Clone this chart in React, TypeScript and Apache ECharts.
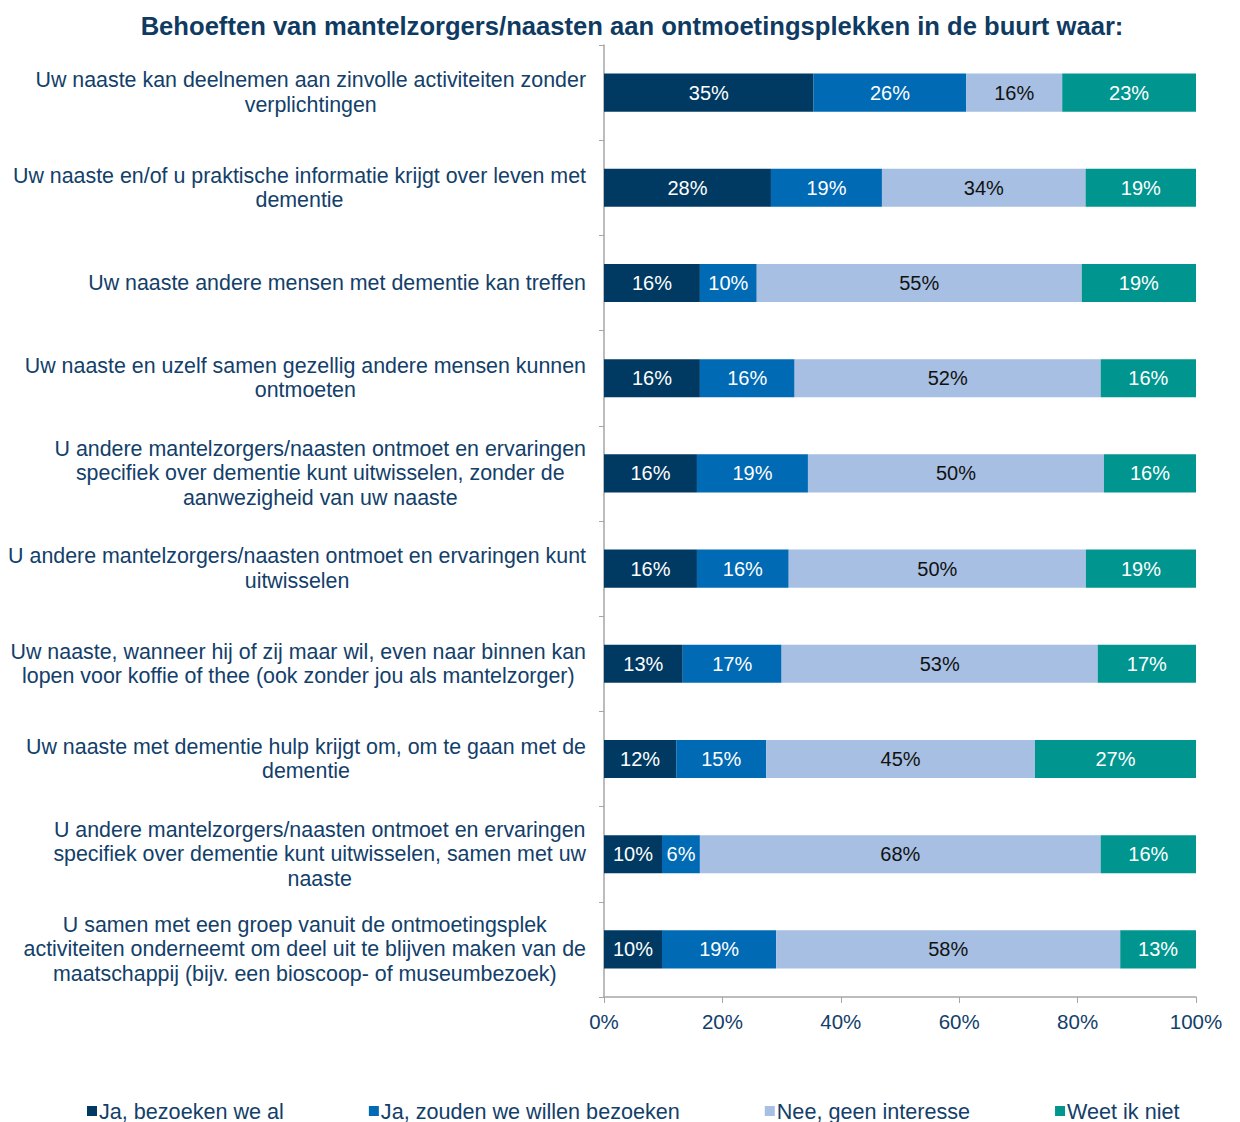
import React, { useEffect, useRef } from "react";
import * as echarts from "echarts";

const categories = [
  "Uw naaste kan deelnemen aan zinvolle activiteiten zonder\nverplichtingen",
  "Uw naaste en/of u praktische informatie krijgt over leven met\ndementie",
  "Uw naaste andere mensen met dementie kan treffen",
  "Uw naaste en uzelf samen gezellig andere mensen kunnen\nontmoeten",
  "U andere mantelzorgers/naasten ontmoet en ervaringen\nspecifiek over dementie kunt uitwisselen, zonder de\naanwezigheid van uw naaste",
  "U andere mantelzorgers/naasten ontmoet en ervaringen kunt\nuitwisselen",
  "Uw naaste, wanneer hij of zij maar wil, even naar binnen kan\nlopen voor koffie of thee (ook zonder jou als mantelzorger)",
  "Uw naaste met dementie hulp krijgt om, om te gaan met de\ndementie",
  "U andere mantelzorgers/naasten ontmoet en ervaringen\nspecifiek over dementie kunt uitwisselen, samen met uw\nnaaste",
  "U samen met een groep vanuit de ontmoetingsplek\nactiviteiten onderneemt om deel uit te blijven maken van de\nmaatschappij (bijv. een bioscoop- of museumbezoek)",
];

const seriesNames = [
  "Ja, bezoeken we al",
  "Ja, zouden we willen bezoeken",
  "Nee, geen interesse",
  "Weet ik niet",
];

const jaBezoeken = [35.4, 28.2, 16.2, 16.2, 15.7, 15.7, 13.3, 12.2, 9.8, 9.8];
const jaWillen = [25.8, 18.75, 9.6, 16.0, 18.75, 15.5, 16.7, 15.2, 6.4, 19.3];
const neeInteresse = [16.2, 34.4, 54.9, 51.7, 50.0, 50.2, 53.4, 45.4, 67.7, 58.1];
const weetNiet = [22.6, 18.65, 19.3, 16.1, 15.55, 18.6, 16.6, 27.2, 16.1, 12.8];

const xTicks = [0, 20, 40, 60, 80, 100];

const colors = ["#003A63", "#006AB4", "#A6BFE2", "#00968F"];
const labelColors = ["#FFFFFF", "#FFFFFF", "#111111", "#FFFFFF"];
const textColor = "#12406A";
const axisColor = "#A6A6A6";
const FONT = "Liberation Sans, Arial, sans-serif";

export default function App() {
  const ref = useRef<HTMLDivElement>(null);

  useEffect(() => {
    if (!ref.current) return;
    const chart = echarts.init(ref.current, undefined, { renderer: "svg" });
    const values = [jaBezoeken, jaWillen, neeInteresse, weetNiet];
    chart.setOption({
      animation: false,
      textStyle: { fontFamily: FONT },
      title: {
        text: "Behoeften van mantelzorgers/naasten aan ontmoetingsplekken in de buurt waar:",
        left: 627,
        textAlign: "center",
        top: 8,
        textStyle: {
          fontFamily: FONT,
          fontWeight: "bold",
          fontSize: 25.6,
          color: "#0F3B63",
        },
      },
      legend: {
        top: 1095,
        left: 82,
        itemGap: 85,
        itemWidth: 10,
        itemHeight: 10,
        icon: "rect",
        data: seriesNames,
        textStyle: {
          fontFamily: FONT,
          fontSize: 21.6,
          color: textColor,
          padding: [0, 0, 0, -3],
        },
      },
      grid: {
        left: 604,
        right: 44,
        top: 45,
        bottom: 125,
        containLabel: false,
      },
      xAxis: {
        type: "value",
        min: 0,
        max: 100,
        interval: 20,
        axisLine: { show: true, lineStyle: { color: axisColor, width: 1.5 } },
        axisTick: { show: true, length: 6, lineStyle: { color: axisColor } },
        splitLine: { show: false },
        axisLabel: {
          formatter: (v: number) => (xTicks.includes(v) ? v + "%" : ""),
          fontFamily: FONT,
          fontSize: 20.5,
          color: textColor,
          margin: 14,
        },
      },
      yAxis: {
        type: "category",
        inverse: true,
        data: categories,
        axisLine: { show: true, lineStyle: { color: axisColor, width: 1.5 } },
        axisTick: { show: true, length: 5, lineStyle: { color: axisColor } },
        axisLabel: {
          margin: 18,
          align: "right",
          formatter: (v: string) =>
            v
              .split("\n")
              .map((l) => "{c|" + l + "}")
              .join("\n"),
          rich: {
            c: {
              align: "center",
              fontFamily: FONT,
              fontSize: 21.4,
              lineHeight: 24.5,
              color: textColor,
            },
          },
        },
      },
      series: seriesNames.map((name, i) => ({
        name,
        type: "bar",
        stack: "total",
        barWidth: "40%",
        data: values[i],
        itemStyle: { color: colors[i] },
        label: {
          show: true,
          position: "inside",
          formatter: (p: any) => Math.round(p.value) + "%",
          fontFamily: FONT,
          fontSize: 20,
          color: labelColors[i],
        },
      })),
    });
    return () => chart.dispose();
  }, []);

  return (
    <div
      ref={ref}
      style={{ position: "absolute", left: 0, top: 0, width: 1240, height: 1122 }}
    />
  );
}
